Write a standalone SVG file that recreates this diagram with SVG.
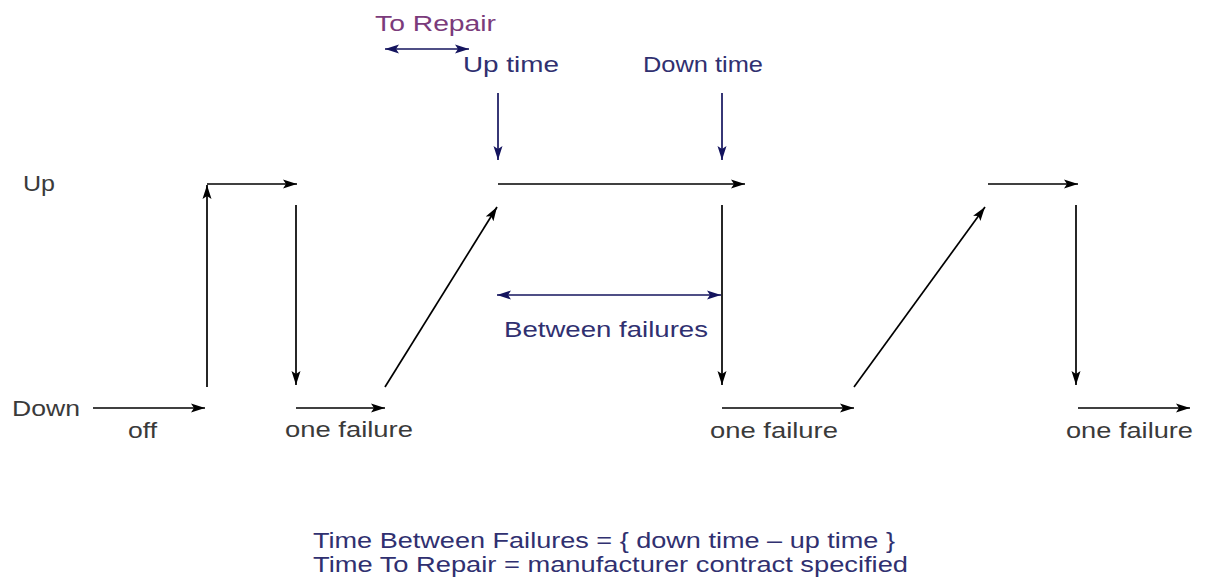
<svg xmlns="http://www.w3.org/2000/svg" width="1209" height="584" viewBox="0 0 1209 584">
<style>
text{font-family:"Liberation Sans",Arial,sans-serif;font-size:22px}
.k{fill:#3a3a3a}
.n{fill:#303070}
.p{fill:#7b3b7b}
.lk{stroke:#000;stroke-width:1.7;fill:none}
.ln{stroke:#14145e;stroke-width:1.7;fill:none}
</style>
<defs>
<marker id="ak" viewBox="0 0 14 10" refX="14" refY="5" markerWidth="14" markerHeight="10" markerUnits="userSpaceOnUse" orient="auto"><path d="M0,0.5 L14,5 L0,9.5 L3,5 Z" fill="#000"/></marker>
<marker id="an" viewBox="0 0 14 10" refX="14" refY="5" markerWidth="14" markerHeight="10" markerUnits="userSpaceOnUse" orient="auto"><path d="M0,0.5 L14,5 L0,9.5 L3,5 Z" fill="#14145e"/></marker>
<marker id="anr" viewBox="0 0 14 10" refX="0" refY="5" markerWidth="14" markerHeight="10" markerUnits="userSpaceOnUse" orient="auto"><path d="M14,0.5 L0,5 L14,9.5 L11,5 Z" fill="#14145e"/></marker>
</defs>
<rect width="1209" height="584" fill="#fff"/>
<g id="labels">
<text id="up" class="k" x="23" y="191" textLength="32" lengthAdjust="spacingAndGlyphs">Up</text>
<text id="down" class="k" x="12" y="416" textLength="68" lengthAdjust="spacingAndGlyphs">Down</text>
<text id="off" class="k" x="128" y="438" textLength="29" lengthAdjust="spacingAndGlyphs">off</text>
<text id="f1" class="k" x="285" y="437" textLength="128" lengthAdjust="spacingAndGlyphs">one failure</text>
<text id="f2" class="k" x="710" y="438" textLength="128" lengthAdjust="spacingAndGlyphs">one failure</text>
<text id="f3" class="k" x="1066" y="438" textLength="127" lengthAdjust="spacingAndGlyphs">one failure</text>
<text id="uptime" class="n" x="463" y="72" textLength="96" lengthAdjust="spacingAndGlyphs">Up time</text>
<text id="downtime" class="n" x="643" y="72" textLength="120" lengthAdjust="spacingAndGlyphs">Down time</text>
<text id="torepair" class="p" x="375" y="31" textLength="121" lengthAdjust="spacingAndGlyphs">To Repair</text>
<text id="between" class="n" x="504" y="337" textLength="204" lengthAdjust="spacingAndGlyphs">Between failures</text>
<text id="eq1" class="n" x="313" y="548" textLength="582" lengthAdjust="spacingAndGlyphs">Time Between Failures = { down time – up time }</text>
<text id="eq2" class="n" x="313" y="572" textLength="595" lengthAdjust="spacingAndGlyphs">Time To Repair = manufacturer contract specified</text>
</g>
<g id="connectors">
<line class="lk" x1="93" y1="408" x2="205" y2="408" marker-end="url(#ak)"/>
<line class="lk" x1="207" y1="387" x2="207" y2="185" marker-end="url(#ak)"/>
<line class="lk" x1="207" y1="184" x2="297" y2="184" marker-end="url(#ak)"/>
<line class="lk" x1="296" y1="205" x2="296" y2="385" marker-end="url(#ak)"/>
<line class="lk" x1="296" y1="408" x2="385" y2="408" marker-end="url(#ak)"/>
<line class="lk" x1="385" y1="387" x2="497" y2="207" marker-end="url(#ak)"/>
<line class="lk" x1="498" y1="184" x2="745" y2="184" marker-end="url(#ak)"/>
<line class="lk" x1="722" y1="205" x2="722" y2="385" marker-end="url(#ak)"/>
<line class="lk" x1="722" y1="408" x2="854" y2="408" marker-end="url(#ak)"/>
<line class="lk" x1="854" y1="387" x2="985" y2="207" marker-end="url(#ak)"/>
<line class="lk" x1="988" y1="184" x2="1078" y2="184" marker-end="url(#ak)"/>
<line class="lk" x1="1076" y1="205" x2="1076" y2="385" marker-end="url(#ak)"/>
<line class="lk" x1="1078" y1="408" x2="1190" y2="408" marker-end="url(#ak)"/>
<line class="ln" x1="498" y1="93" x2="498" y2="160" marker-end="url(#an)"/>
<line class="ln" x1="722" y1="93" x2="722" y2="160" marker-end="url(#an)"/>
<line class="ln" x1="385" y1="49" x2="469" y2="49" marker-start="url(#anr)" marker-end="url(#an)"/>
<line class="ln" x1="497" y1="295" x2="721" y2="295" marker-start="url(#anr)" marker-end="url(#an)"/>
</g>
</svg>
